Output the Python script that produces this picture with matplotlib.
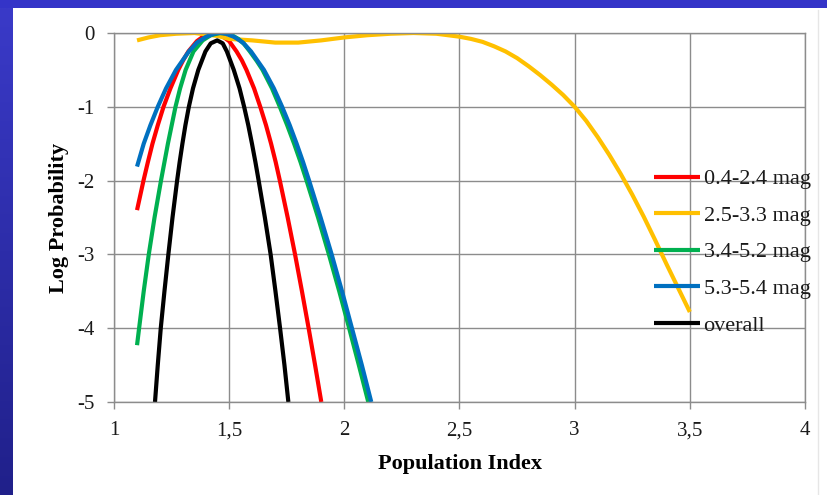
import numpy as np
import matplotlib
matplotlib.use("Agg")
import matplotlib.pyplot as plt
from matplotlib.patches import Rectangle

plt.rcParams['font.family'] = ['Liberation Serif', 'DejaVu Serif']
plt.rcParams['axes.unicode_minus'] = False

# log probability curves vs population index, one per magnitude range
mag_labels = ["0.4-2.4 mag", "2.5-3.3 mag", "3.4-5.2 mag", "5.3-5.4 mag", "overall"]
line_colors = ["#ff0000", "#ffc000", "#00b050", "#0070c0", "#000000"]

red_x = [1.10, 1.128, 1.147, 1.167, 1.19, 1.215, 1.245, 1.279, 1.30, 1.323, 1.36, 1.40, 1.43, 1.46,
         1.50, 1.532, 1.555, 1.575, 1.608, 1.635, 1.66, 1.682, 1.702, 1.72, 1.754, 1.786, 1.816,
         1.845, 1.873, 1.90]
red_y = [-2.4, -2.0, -1.75, -1.5, -1.25, -1.0, -0.75, -0.5, -0.37, -0.25, -0.11, -0.02, 0.0, -0.02,
         -0.11, -0.25, -0.37, -0.5, -0.75, -1.0, -1.25, -1.5, -1.75, -2.0, -2.5, -3.0, -3.5,
         -4.0, -4.5, -5.0]

yel_x = [1.10, 1.15, 1.20, 1.27, 1.35, 1.45, 1.50, 1.60, 1.70, 1.80, 1.90, 2.00, 2.10, 2.20, 2.30,
         2.40, 2.50, 2.55, 2.60, 2.65, 2.70, 2.75, 2.80, 2.85, 2.90, 2.95, 3.00, 3.05, 3.10, 3.15,
         3.20, 3.25, 3.30, 3.35, 3.40, 3.45, 3.50]
yel_y = [-0.1, -0.06, -0.03, -0.01, 0.0, -0.04, -0.08, -0.1, -0.13, -0.13, -0.1, -0.06, -0.03, -0.01, 0.0,
         -0.01, -0.05, -0.08, -0.12, -0.18, -0.25, -0.34, -0.45, -0.57, -0.7, -0.84, -1.0, -1.19, -1.41,
         -1.65, -1.91, -2.19, -2.49, -2.81, -3.14, -3.46, -3.78]

grn_x = [1.10, 1.109, 1.129, 1.151, 1.176, 1.204, 1.234, 1.267, 1.287, 1.311, 1.345, 1.385, 1.42,
         1.46, 1.50, 1.54, 1.565, 1.59, 1.62, 1.645, 1.686, 1.72, 1.752, 1.782, 1.81, 1.836, 1.886,
         1.933, 1.978, 2.021, 2.063, 2.104]
grn_y = [-4.23, -4.0, -3.5, -3.0, -2.5, -2.0, -1.5, -1.0, -0.75, -0.5, -0.25, -0.1, -0.03,
         0.0, -0.01, -0.08, -0.15, -0.25, -0.38, -0.5, -0.75, -1.0, -1.25, -1.5, -1.75, -2.0, -2.5,
         -3.0, -3.5, -4.0, -4.5, -5.0]

blu_x = [1.10, 1.129, 1.158, 1.19, 1.226, 1.269, 1.325, 1.36, 1.40, 1.44, 1.46, 1.48, 1.52, 1.56,
         1.595, 1.651, 1.694, 1.73, 1.763, 1.793, 1.821, 1.847, 1.897, 1.945, 1.99, 2.033,
         2.076, 2.117]
blu_y = [-1.81, -1.5, -1.25, -1.0, -0.75, -0.5, -0.25, -0.13, -0.05, -0.005, 0.0, -0.005, -0.05, -0.13,
         -0.25, -0.5, -0.75, -1.0, -1.25, -1.5, -1.75, -2.0, -2.5, -3.0, -3.5, -4.0,
         -4.5, -5.0]

blk_x = [1.178, 1.19, 1.203, 1.219, 1.236, 1.254, 1.274, 1.285, 1.297, 1.31, 1.325, 1.343, 1.366,
         1.397, 1.42, 1.448, 1.472, 1.49, 1.52, 1.545, 1.565, 1.583, 1.599, 1.614, 1.628, 1.655,
         1.68, 1.701, 1.721, 1.74, 1.757]
blk_y = [-5.0, -4.5, -4.0, -3.5, -3.0, -2.5, -2.0, -1.75, -1.5, -1.25, -1.0, -0.75, -0.5,
         -0.25, -0.14, -0.1, -0.14, -0.25, -0.5, -0.75, -1.0, -1.25, -1.5, -1.75, -2.0, -2.5,
         -3.0, -3.5, -4.0, -4.5, -5.0]

series = [(red_x, red_y), (yel_x, yel_y), (grn_x, grn_y), (blu_x, blu_y), (blk_x, blk_y)]

x_ticks = [1, 1.5, 2, 2.5, 3, 3.5, 4]
x_tick_labels = ["1", "1,5", "2", "2,5", "3", "3,5", "4"]
y_ticks = [0, -1, -2, -3, -4, -5]

W, H = 828, 495
fig = plt.figure(figsize=(W / 100, H / 100), dpi=100)
fig.patch.set_facecolor("#3434c8")

# slide background: white panel with a darker blue gradient strip on the left
bg = fig.add_axes([0, 0, 1, 1])
bg.axis("off")
grad = np.linspace(0, 1, 256).reshape(-1, 1)
bg.imshow(grad, extent=[0, 13, H, 8], cmap=matplotlib.colors.LinearSegmentedColormap.from_list(
    "strip", ["#3a3ac8", "#20208a"]), aspect="auto", zorder=1)
bg.add_patch(Rectangle((13, 8), W - 13, H - 8, facecolor="white", edgecolor="none", zorder=1))
bg.plot([818, 818], [10, H], color="#e6e6e6", lw=1, zorder=2)
bg.set_xlim(0, W)
bg.set_ylim(H, 0)

ax = fig.add_axes([114 / W, (H - 402) / H, (805 - 114) / W, (402 - 33) / H])
ax.set_facecolor("none")
for (xs, ys), c, lab in zip(series, line_colors, mag_labels):
    ax.plot(xs, ys, color=c, lw=3.0, label=lab, solid_joinstyle="round", solid_capstyle="butt")

ax.set_xlim(1, 4)
ax.set_ylim(-5, 0)
ax.set_xticks(x_ticks)
ax.set_xticklabels(x_tick_labels)
ax.set_yticks(y_ticks)
ax.grid(True, color="#8c8c8c", lw=1.0)
ax.set_axisbelow(True)
for s in ax.spines.values():
    s.set_color("#8c8c8c")
    s.set_linewidth(1.0)
ax.tick_params(axis="both", colors="#8c8c8c", labelcolor="#1a1a1a", labelsize=15, length=5, width=1)
ax.tick_params(axis="x", pad=9)
ax.tick_params(axis="y", pad=9)

ax.set_xlabel("Population Index", fontsize=16, fontweight="bold", labelpad=10)
ax.set_ylabel("Log Probability", fontsize=16, fontweight="bold", labelpad=6)

leg = ax.legend(loc="upper left", bbox_to_anchor=(0.768, 0.656), frameon=False, fontsize=16,
                handlelength=2.1, handletextpad=0.15, labelspacing=0.72, borderaxespad=0)
for t in leg.get_texts():
    t.set_color("#1a1a1a")
for h in leg.legend_handles:
    h.set_linewidth(3.0)

fig.savefig("out.png", dpi=100, facecolor=fig.get_facecolor())
